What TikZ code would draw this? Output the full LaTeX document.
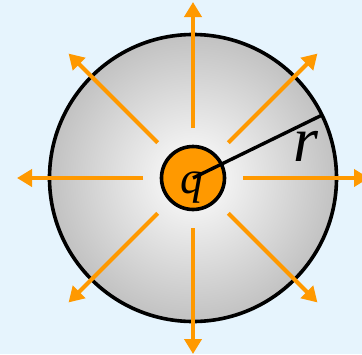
\documentclass[tikz,border=0pt]{standalone}
\usepackage{fontspec}
\setmainfont{Liberation Serif}
\usetikzlibrary{arrows.meta, calc}
\definecolor{bgblue}{HTML}{E6F4FD}
\definecolor{rayorange}{HTML}{FF9900}
\begin{document}
\begin{tikzpicture}[x=1pt, y=-1pt]

% --- Styles ---
\tikzset{
    sphere/.style={circle, draw=black, line width=3.6pt, inner sep=0pt, outer sep=0pt,
        minimum size=287pt, inner color=white, outer color=black!24},
    charge/.style={circle, draw=black, line width=3.6pt, fill=rayorange, inner sep=0pt,
        outer sep=0pt, minimum size=63pt},
    ray/.style={draw=rayorange, line width=4pt, -{Triangle[length=15pt, width=17pt]}},
    radius/.style={draw=black, line width=3.4pt},
    symbol/.style={font=\itshape, inner sep=0pt, anchor=base}
}

    % Achtergrond
    \fill[bgblue] (0, 0) rectangle (362, 354);
    \useasboundingbox (0, 0) rectangle (362, 354);

    % Bol rond de lading
    \node[sphere] (gauss) at (193, 178) {};

    % Puntlading
    \node[charge] (charge) at (193, 178) {};

    % Straal r
    \draw[radius] (charge.center) -- (gauss.26);

    % Veldlijnen naar buiten
    \foreach \a in {0, 45, ..., 315} {
        \coordinate (in\a) at ($(charge.center) + (\a:50)$);
        \coordinate (out\a) at ($(charge.center) + (\a:176)$);
        \draw[ray] (in\a) -- (out\a);
    }

    % Labels
    \node[symbol, font=\fontsize{46}{46}\selectfont\itshape] (qlabel) at (192, 193) {q};
    \node[symbol, font=\fontsize{64}{64}\selectfont\itshape] (rlabel) at (306, 161) {r};

\end{tikzpicture}
\end{document}
